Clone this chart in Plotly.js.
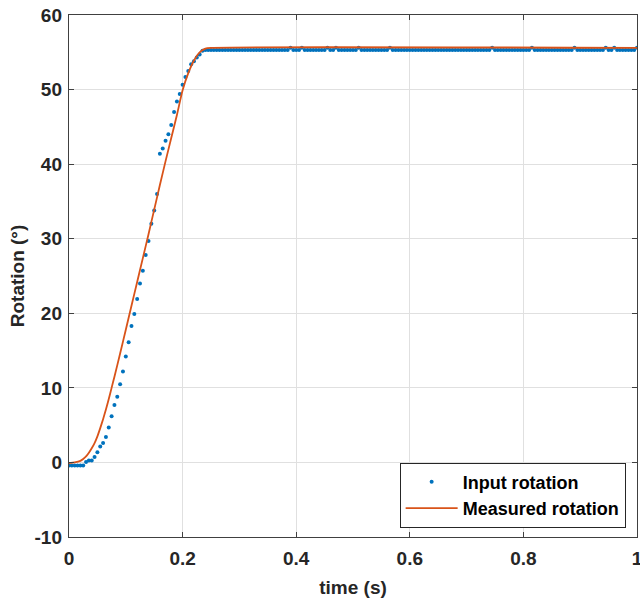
<!DOCTYPE html>
<html>
<head>
<meta charset="utf-8">
<script src="https://cdn.plot.ly/plotly-3.0.1.min.js"></script>
<style>html,body{margin:0;padding:0;background:#fff;}#chart{width:640px;height:598px;}</style>
</head>
<body>
<div id="chart"></div>
<script>
// Input rotation samples (time in s)
var inputTime = [
  0,0.005,0.01,0.015,0.02,0.025,0.03,0.035,0.04,0.045,
  0.05,0.055,0.06,0.065,0.07,0.075,0.08,0.085,0.09,0.095,
  0.1,0.105,0.11,0.115,0.12,0.125,0.13,0.135,0.14,0.145,
  0.15,0.155,0.16,0.165,0.17,0.175,0.18,0.185,0.19,0.195,
  0.2,0.205,0.21,0.215,0.22,0.225,0.23,0.235,0.24,
  0.245,0.25,0.255,0.26,0.265,0.27,0.275,0.28,0.285,0.29,
  0.295,0.3,0.305,0.31,0.315,0.32,0.325,0.33,0.335,0.34,
  0.345,0.35,0.355,0.36,0.365,0.37,0.375,0.38,0.385,0.39,
  0.395,0.4,0.405,0.41,0.415,0.42,0.425,0.43,0.435,0.44,
  0.445,0.45,0.455,0.46,0.465,0.47,0.475,0.48,0.485,0.49,
  0.495,0.5,0.505,0.51,0.515,0.52,0.525,0.53,0.535,0.54,
  0.545,0.55,0.555,0.56,0.565,0.57,0.575,0.58,0.585,0.59,
  0.595,0.6,0.605,0.61,0.615,0.62,0.625,0.63,0.635,0.64,
  0.645,0.65,0.655,0.66,0.665,0.67,0.675,0.68,0.685,0.69,
  0.695,0.7,0.705,0.71,0.715,0.72,0.725,0.73,0.735,0.74,
  0.745,0.75,0.755,0.76,0.765,0.77,0.775,0.78,0.785,0.79,
  0.795,0.8,0.805,0.81,0.815,0.82,0.825,0.83,0.835,0.84,
  0.845,0.85,0.855,0.86,0.865,0.87,0.875,0.88,0.885,0.89,
  0.895,0.9,0.905,0.91,0.915,0.92,0.925,0.93,0.935,0.94,
  0.945,0.95,0.955,0.96,0.965,0.97,0.975,0.98,0.985,0.99,
  0.995,1.0
];
var inputRotation = [
  -0.4,-0.4,-0.4,-0.4,-0.4,-0.4,0.05,0.27,0.27,0.72,
  1.38,2.15,2.6,3.4,4.7,6.2,7.7,8.8,10.5,12.2,
  14.2,16.1,18.3,19.9,21.9,24.0,25.7,27.8,29.7,32.0,
  33.8,36.0,41.4,42.1,43.15,44.0,45.25,47.0,48.4,49.4,
  50.65,51.7,52.5,53.4,53.8,54.3,54.7,55.2,55.3,
  55.3,55.3,55.3,55.3,55.3,55.3,55.3,55.3,55.3,55.3,
  55.3,55.3,55.3,55.3,55.3,55.3,55.3,55.3,55.3,55.3,
  55.3,55.3,55.3,55.3,55.3,55.3,55.3,55.3,55.3,55.6,
  55.3,55.3,55.3,55.6,55.3,55.3,55.3,55.3,55.3,55.3,
  55.3,55.3,55.6,55.3,55.3,55.6,55.3,55.3,55.3,55.3,
  55.3,55.3,55.3,55.6,55.3,55.3,55.3,55.3,55.3,55.3,
  55.3,55.3,55.3,55.3,55.6,55.3,55.3,55.3,55.3,55.3,
  55.3,55.3,55.3,55.3,55.3,55.3,55.3,55.3,55.3,55.3,
  55.3,55.3,55.3,55.3,55.3,55.3,55.3,55.3,55.3,55.3,
  55.3,55.3,55.3,55.3,55.3,55.3,55.3,55.3,55.3,55.3,
  55.6,55.3,55.3,55.3,55.3,55.3,55.3,55.3,55.3,55.3,
  55.3,55.3,55.3,55.3,55.6,55.3,55.3,55.3,55.3,55.3,
  55.3,55.3,55.3,55.3,55.3,55.3,55.3,55.3,55.3,55.6,
  55.3,55.3,55.3,55.3,55.3,55.3,55.3,55.3,55.3,55.3,
  55.6,55.3,55.3,55.6,55.3,55.3,55.3,55.3,55.3,55.3,
  55.3,55.6
];
// Measured rotation curve
var measuredTime = [0,0.01,0.02,0.025,0.03,0.035,0.04,0.045,0.05,0.055,0.06,0.065,0.07,0.075,0.08,0.09,0.1,0.11,0.12,0.13,0.14,0.15,0.16,0.17,0.18,0.19,0.2,0.21,0.22,0.23,0.24,0.25,1.0];
var measuredRotation = [-0.1,0.0,0.2,0.45,0.8,1.3,1.9,2.6,3.5,4.6,5.8,7.1,8.5,10.0,11.5,14.6,17.8,21.0,24.2,27.4,30.6,33.9,37.2,40.4,43.5,46.6,49.9,52.2,53.9,55.0,55.5,55.6,55.6];

var xTickVals = [0,0.2,0.4,0.6,0.8,1];
var xTickText = ['0','0.2','0.4','0.6','0.8','1'];
var yTickVals = [-10,0,10,20,30,40,50,60];
var yTickText = ['-10','0','10','20','30','40','50','60'];
var seriesNames = ['Input rotation','Measured rotation'];

var FONT = 'Arial, "Liberation Sans", Helvetica, sans-serif';
var AX = '#404040';
var GRID = '#e0e0e0';

var traces = [
  {x: inputTime, y: inputRotation, name: seriesNames[0], type: 'scatter', mode: 'markers',
   marker: {color: '#0072BD', size: 4}},
  {x: measuredTime, y: measuredRotation, name: seriesNames[1], type: 'scatter', mode: 'lines',
   line: {color: '#D95319', width: 1.8, shape: 'spline', smoothing: 0.6}}
];

var axisCommon = {
  showgrid: true, gridcolor: GRID, gridwidth: 1,
  showline: true, linecolor: AX, linewidth: 1.2, mirror: 'ticks',
  ticks: 'inside', ticklen: 5, tickcolor: AX, tickwidth: 1,
  zeroline: false, ticklabeloverflow: 'allow',
  tickfont: {family: FONT, size: 19, color: '#262626', weight: 'bold'}
};

var layout = {
  width: 640, height: 598,
  margin: {l: 69, r: 3, t: 15, b: 61},
  paper_bgcolor: '#ffffff', plot_bgcolor: '#ffffff',
  showlegend: true,
  xaxis: Object.assign({}, axisCommon, {
    range: [0, 1], tickmode: 'array', tickvals: xTickVals, ticktext: xTickText,
    ticklabelstandoff: 4,
    title: {text: 'time (s)', font: {family: FONT, size: 19, color: '#262626', weight: 'bold'}, standoff: 12}
  }),
  yaxis: Object.assign({}, axisCommon, {
    range: [-10, 60], tickmode: 'array', tickvals: yTickVals, ticktext: yTickText,
    ticklabelstandoff: 2,
    title: {text: 'Rotation (°)', font: {family: FONT, size: 19, color: '#262626', weight: 'bold'}, standoff: 4}
  }),
  legend: {
    x: 0.98, y: 0.018, xanchor: 'right', yanchor: 'bottom',
    bgcolor: '#ffffff', bordercolor: '#262626', borderwidth: 1,
    font: {family: FONT, size: 18, color: '#000000', weight: 'bold'},
    tracegroupgap: 0, itemwidth: 52
  }
};

Plotly.newPlot('chart', traces, layout, {displayModeBar: false, staticPlot: true});
</script>
</body>
</html>
